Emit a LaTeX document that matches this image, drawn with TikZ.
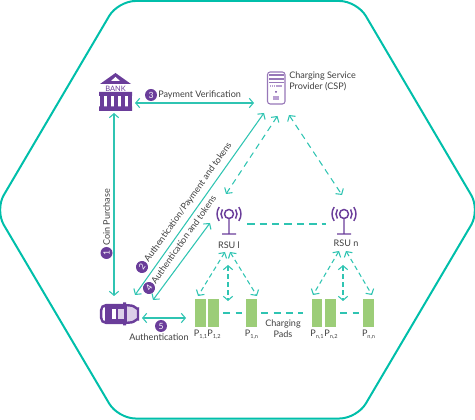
\documentclass[tikz,border=0pt]{standalone}
\usepackage{fontspec}
\setmainfont{Lato}
\usetikzlibrary{arrows.meta}
\definecolor{myteal}{HTML}{2FC4B2}
\definecolor{myframe}{HTML}{00BFAA}
\definecolor{mypurple}{HTML}{6A3D9A}
\definecolor{mylightpurple}{HTML}{B9A0D2}
\definecolor{mygreen}{HTML}{9CCD78}
\definecolor{mytext}{HTML}{3F3F3F}
\tikzset{>={Straight Barb[length=3pt,width=7pt,line width=0.8pt]}}
\tikzstyle{frame}=[myframe,line width=1.5pt,rounded corners=13pt]
\tikzstyle{link}=[<->,myteal,line width=0.8pt]
\tikzstyle{link dash}=[<->,myteal,line width=0.8pt,dash pattern=on 4.5pt off 3.5pt]
\tikzstyle{pad link}=[myteal,line width=0.8pt,dash pattern=on 5.5pt off 3.8pt,shorten <=3pt,shorten >=3pt]
\tikzstyle{label}=[text=mytext,font=\fontsize{6.8}{8}\selectfont,inner sep=0]
\tikzstyle{badge}=[circle,fill=mypurple,text=white,font=\fontsize{6.4}{6.4}\selectfont,
                   inner sep=0,minimum size=9pt]
\tikzstyle{pad}=[fill=mygreen,inner sep=0,minimum width=8pt,minimum height=21pt]
\tikzstyle{icon}=[inner sep=0]
\def\padname#1{P\raisebox{-1.2pt}{\fontsize{4.2}{4.5}\selectfont #1}}
\def\rsuicon#1{ % antenna with its radio waves
  \draw[mypurple,line width=1.1pt] (#1)++(0,-10) circle(4.5)
    (#1)++(0,-5.5) -- ++(0,15.5) (#1)++(-7,10) -- ++(14,0);
  \draw[mypurple,line width=1.1pt] (#1)++(-6.55,-14.6) arc(-145:-215:8)
    (#1)++(6.55,-5.4) arc(35:-35:8);
  \draw[mypurple,line width=1.1pt] (#1)++(-9.8,-16.9) arc(-145:-215:12)
    (#1)++(9.8,-3.1) arc(35:-35:12);
}
\begin{document}
\begin{tikzpicture}[x=0.75pt,y=-0.75pt]
  \useasboundingbox (0,0) rectangle (475,420);

  % FRAME
  \draw[frame] (118,1) -- (357,1) -- (480,210) -- (357,418.5) -- (118,418.5) -- (-5,210) -- cycle;

  % ICON BOXES
  \node[icon,minimum width=25pt,minimum height=29pt] (bank) at (115.5,91.5) {};
  \node[icon,minimum width=14pt,minimum height=24pt] (csp) at (276,88) {};
  \node[icon,minimum width=29pt,minimum height=17pt] (car) at (119.5,314) {};
  \node[icon,minimum width=21pt,minimum height=20pt] (rsua) at (229,224) {};
  \node[icon,minimum width=21pt,minimum height=20pt] (rsub) at (344,224) {};

  % BANK
  \fill[mypurple] (115.5,73) -- (131,84) -- (100,84) -- cycle;
  \fill[white] (115.5,77) -- (120,81) -- (111,81) -- cycle;
  \node[inner sep=0,text=mypurple,font=\fontsize{5.6}{6}\selectfont] (banktext) at (115.5,88.5) {BANK};
  \fill[mypurple] (99,92) rectangle (132,96) (99,106.5) rectangle (132,111);
  \foreach \x in {100,107,114,121,128}{
    \fill[mypurple] (\x,96) rectangle ++(4,11);
  }

  % CSP
  \draw[mypurple!70,line width=0.8pt,rounded corners=2pt,fill=white] (267.5,72) rectangle (285,104);
  \draw[mypurple!70,line width=0.8pt] (269,75) -- (283.5,75) (269,79) -- (283.5,79) (269,82.5) -- (283.5,82.5);
  \draw[mylightpurple,line width=1pt,dash pattern=on 1pt off 0.4pt] (270,86) -- (282,86);
  \fill[mypurple] (276,92) circle(1);
  \fill[mylightpurple] (273,96) rectangle (279,100);

  % CAR
  \fill[mypurple] (123,302.5) rectangle (126,306) (123,322) rectangle (126,325.5);
  \draw[mypurple,line width=1.8pt,fill=mylightpurple!50,rounded corners=4pt]
    (101,305) -- (127,305) .. controls (134,306) and (138,310) .. (138,314)
     .. controls (138,318) and (134,322) .. (127,323) -- (101,323) -- cycle;
  \fill[mypurple] (105,306) rectangle (127,322);
  \fill[white] (112,309) rectangle (116,319);
  \fill[mylightpurple!50] (118,309) rectangle (124,319);
  \fill[white] (102.5,308) rectangle (104.5,320);

  % RSU ICONS
  \rsuicon{rsua};
  \rsuicon{rsub};

  % PADS
  \node[pad] (p11) at (200.5,313) {};
  \node[pad] (p12) at (213.5,313) {};
  \node[pad] (p1n) at (251.5,313) {};
  \node[pad] (pn1) at (317,313) {};
  \node[pad] (pn2) at (330.5,313) {};
  \node[pad] (pnn) at (368.5,313) {};

  % ARROW ENDS
  \coordinate (A1) at (114,113); \coordinate (B1) at (114,296);
  \coordinate (A2) at (135,295); \coordinate (B2) at (264,113);
  \coordinate (A3) at (135,103); \coordinate (B3) at (254,103);
  \coordinate (A4) at (153,300); \coordinate (B4) at (210,223);
  \coordinate (A5) at (142,318); \coordinate (B5) at (186,318);
  \coordinate (CA) at (277.5,116); \coordinate (RA) at (226,194);
  \coordinate (CB) at (289,115); \coordinate (RB) at (342,195);

  % SOLID LINKS
  \draw[link] (A1) -- (B1);
  \draw[link] (A2) -- (B2);
  \draw[link] (A3) -- (B3);
  \draw[link] (A4) -- (B4);
  \draw[link] (A5) -- (B5);

  % DASHED LINKS
  \draw[link dash] (CA) -- (RA);
  \draw[link dash] (CB) -- (RB);
  \draw[pad link] (rsua.east) -- (rsub.west);
  \draw[pad link] (p12.east) -- (p1n.west);
  \draw[pad link,shorten >=6pt] (p1n.east) -- (pn1.west);
  \draw[pad link] (pn2.east) -- (pnn.west);

  % RSU TO PADS
  \foreach \a/\b/\c/\d in {225/252/198/296,228/265/228/301,230/252/257/296,
                           339/251/313/295,343/265/343/301,346/251/372/295}{
    \draw[link dash,dash pattern=on 3.5pt off 2.5pt] (\a,\b) -- (\c,\d);
  }

  % LABELS
  \node[badge] (n3) at (151,95) {3};
  \node[label,anchor=west] (t3) at (158,95) {Payment Verification};
  \node[badge,rotate=90] (n1) at (106.5,253) {1};
  \node[label,rotate=90,anchor=west] (t1) at (106.5,246) {Coin Purchase};
  \node[badge,rotate=54.7] (n2) at (142,267) {2};
  \node[label,rotate=54.7,anchor=west] (t2) at (146.5,261.5) {Authentication/Payment and tokens};
  \node[badge,rotate=54.7] (n4) at (149,288) {4};
  \node[label,rotate=54.7,anchor=west] (t4) at (153,282.5) {Authentication and tokens};
  \node[badge] (n5) at (161,326) {5};
  \node[label] (t5) at (159,337) {Authentication};
  \node[label,align=left,anchor=north west] (tcsp) at (289,72) {Charging Service\\Provider (CSP)};
  \node[label] (ta) at (229,245) {RSU l};
  \node[label] (tb) at (346,243) {RSU n};
  \node[label,align=center] (tp) at (283,329) {Charging\\Pads};
  \node[label] (l11) at (200.5,334.5) {\padname{1,1}};
  \node[label] (l12) at (214,334.5) {\padname{1,2}};
  \node[label] (l1n) at (251.5,334.5) {\padname{1,n}};
  \node[label] (ln1) at (317,334.5) {\padname{n,1}};
  \node[label] (ln2) at (331,334.5) {\padname{n,2}};
  \node[label] (lnn) at (368.5,334.5) {\padname{n,n}};
\end{tikzpicture}
\end{document}
